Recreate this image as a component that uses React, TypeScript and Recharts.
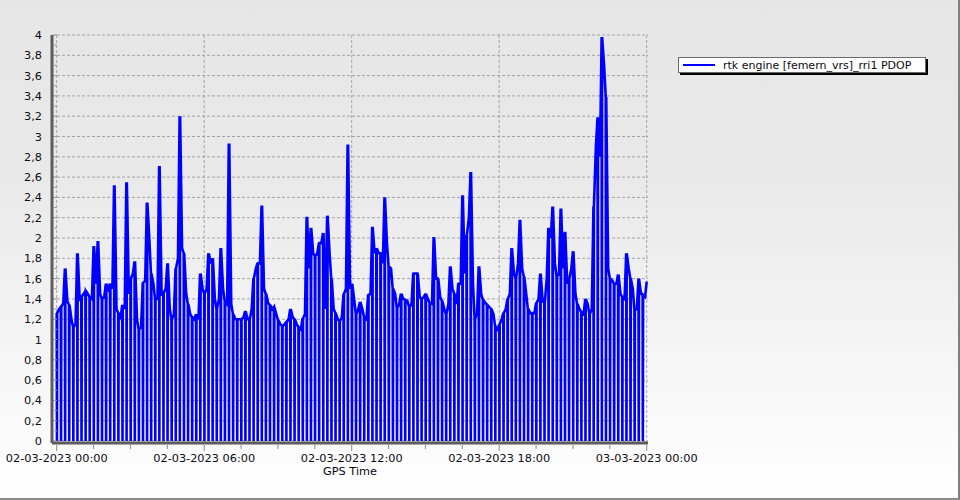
import { CartesianGrid, Legend, Line, LineChart, XAxis, YAxis } from "recharts";

// PDOP per 10-minute epoch, 02-03-2023 00:00 .. 03-03-2023 00:00
const pdop: number[] = [
  1.26, 1.32, 1.7, 1.34, 1.12, 1.85, 1.42, 1.48, 1.42, 1.92,
  1.97, 1.4, 1.55, 1.55, 2.52, 1.26, 1.34, 2.55, 1.6, 1.77,
  1.1, 1.56, 2.35, 1.65, 1.4, 2.71, 1.46, 1.75, 1.2, 1.7,
  3.2, 1.85, 1.35, 1.22, 1.25, 1.65, 1.45, 1.85, 1.8, 1.3,
  1.9, 1.38, 2.93, 1.25, 1.2, 1.2, 1.28, 1.2, 1.6, 1.75,
  2.32, 1.45, 1.34, 1.32, 1.19, 1.13, 1.17, 1.3, 1.2, 1.12,
  1.21, 2.21, 2.1, 1.82, 1.95, 2.05, 2.22, 1.6, 1.26, 1.18,
  1.45, 2.92, 1.55, 1.25, 1.37, 1.22, 1.44, 2.11, 1.9, 1.85,
  2.4, 1.72, 1.5, 1.31, 1.45, 1.39, 1.32, 1.65, 1.65, 1.4,
  1.45, 1.36, 2.01, 1.6, 1.38, 1.25, 1.72, 1.45, 1.55, 2.42,
  2.03, 2.65, 1.2, 1.72, 1.39, 1.34, 1.3, 1.13, 1.15, 1.26,
  1.4, 1.9, 1.6, 2.18, 1.62, 1.3, 1.26, 1.36, 1.65, 1.36,
  2.1, 2.31, 1.62, 2.29, 2.06, 1.6, 1.87, 1.35, 1.27, 1.4,
  1.25, 2.31, 3.19, 3.98, 3.39, 1.6, 1.55, 1.64, 1.42, 1.85,
  1.6, 1.29, 1.6, 1.44, 1.57,
];

// PDOP level between two epochs (6 minutes after each epoch)
const pdopMid: number[] = [
  1.3, 1.36, 1.38, 1.2, 1.15, 1.4, 1.45, 1.45, 1.4, 1.55,
  1.45, 1.42, 1.5, 1.5, 1.3, 1.22, 1.3, 1.45, 1.65, 1.2,
  1.12, 1.58, 2.0, 1.55, 1.4, 1.45, 1.5, 1.3, 1.25, 1.8,
  1.9, 1.45, 1.25, 1.2, 1.2, 1.5, 1.5, 1.75, 1.4, 1.4,
  1.5, 1.35, 1.35, 1.2, 1.2, 1.22, 1.2, 1.3, 1.7, 1.75,
  1.5, 1.36, 1.3, 1.25, 1.15, 1.15, 1.2, 1.22, 1.15, 1.1,
  1.25, 1.7, 1.85, 1.85, 1.95, 1.3, 1.85, 1.3, 1.2, 1.22,
  1.5, 1.5, 1.4, 1.3, 1.3, 1.2, 1.45, 1.85, 1.85, 1.75,
  1.95, 1.7, 1.45, 1.35, 1.4, 1.38, 1.35, 1.65, 1.42, 1.42,
  1.4, 1.35, 1.6, 1.42, 1.3, 1.35, 1.5, 1.35, 1.55, 1.65,
  2.2, 1.55, 1.26, 1.45, 1.36, 1.32, 1.25, 1.1, 1.2, 1.3,
  1.45, 1.65, 1.75, 1.7, 1.45, 1.26, 1.26, 1.4, 1.38, 1.6,
  2.0, 1.75, 1.65, 1.7, 1.55, 1.7, 1.45, 1.3, 1.25, 1.35,
  1.3, 2.9, 2.8, 3.7, 1.7, 1.58, 1.55, 1.45, 1.4, 1.7,
  1.5, 1.3, 1.45, 1.42,
];
const EPOCH_MIN = 10;
const MID_OFFSET_MIN = 6;
// the receiver logs a 0 reading right after every epoch
const DROPOUT_VALUE = 0;

const xTicks = [0, 90, 180, 270, 360, 450, 540, 630, 720, 810, 900, 990, 1080, 1170, 1260, 1350, 1440];
const xLabelTimes = [0, 360, 720, 1080, 1440];
const xLabels = ["02-03-2023 00:00", "02-03-2023 06:00", "02-03-2023 12:00", "02-03-2023 18:00", "03-03-2023 00:00"];

const yTicks = [
  0, 0.1, 0.2, 0.3, 0.4, 0.5, 0.6, 0.7, 0.8, 0.9, 1, 1.1, 1.2, 1.3, 1.4, 1.5, 1.6, 1.7, 1.8, 1.9, 2,
  2.1, 2.2, 2.3, 2.4, 2.5, 2.6, 2.7, 2.8, 2.9, 3, 3.1, 3.2, 3.3, 3.4, 3.5, 3.6, 3.7, 3.8, 3.9, 4,
];
const yGrid = [0, 0.2, 0.4, 0.6, 0.8, 1, 1.2, 1.4, 1.6, 1.8, 2, 2.2, 2.4, 2.6, 2.8, 3, 3.2, 3.4, 3.6, 3.8, 4];

const SERIES_NAME = "rtk engine [femern_vrs]_rri1 PDOP";
const FONT = "'DejaVu Sans', Verdana, sans-serif";

const rows: Array<{ t: number; pdop: number }> = [];
pdop.forEach((v, i) => {
  const t = i * EPOCH_MIN;
  rows.push({ t, pdop: v });
  if (i < pdopMid.length) {
    rows.push({ t: t + 0.6, pdop: DROPOUT_VALUE });
    rows.push({ t: t + 1.2, pdop: v });
    rows.push({ t: t + MID_OFFSET_MIN, pdop: pdopMid[i] });
  }
});

function XTick({ x, y, payload }: any) {
  const idx = xLabelTimes.indexOf(payload.value);
  const major = idx >= 0;
  return (
    <g>
      <line x1={x} x2={x} y1={y + 2} y2={y + (major ? 8 : 6)} stroke="#8c8c8c" />
      {major && (
        <text x={x} y={y + 19} textAnchor="middle" fontFamily={FONT} fontSize={11.3} fill="#0a0a14">
          {xLabels[idx]}
        </text>
      )}
    </g>
  );
}

function YTick({ x, y, payload }: any) {
  const v: number = payload.value;
  const major = Math.round(v * 10) % 2 === 0;
  return (
    <g>
      <line x1={x + 2} x2={x + 5} y1={y} y2={y} stroke="#9a9a9a" />
      {major && (
        <text x={x - 10} y={y + 4} textAnchor="end" fontFamily={FONT} fontSize={11.3} fill="#0a0a14">
          {String(v).replace(".", ",")}
        </text>
      )}
    </g>
  );
}

function LegendBox() {
  return (
    <div
      style={{
        boxSizing: "border-box",
        width: 248,
        height: 16,
        display: "flex",
        alignItems: "center",
        background: "#fff",
        border: "1px solid #6b6b6b",
        boxShadow: "2px 2px 0 #000",
        padding: "0 4px",
        fontFamily: FONT,
        fontSize: 11,
        color: "#0a0a14",
        whiteSpace: "nowrap",
      }}
    >
      <svg width={32} height={4}>
        <line x1={0} x2={32} y1={2} y2={2} stroke="#0000ff" strokeWidth={2} />
      </svg>
      <span style={{ marginLeft: 8 }}>{SERIES_NAME}</span>
    </div>
  );
}

export default function App() {
  return (
    <div
      style={{
        position: "fixed",
        left: 0,
        top: 0,
        width: 960,
        height: 500,
        background: "linear-gradient(#e6e6e6, #e9e9e9 35%, #ffffff)",
      }}
    >
      <LineChart width={960} height={500} data={rows} margin={{ top: 35, right: 312, bottom: 0, left: 0 }}>
        <CartesianGrid
          horizontalValues={yGrid}
          verticalValues={xLabelTimes}
          stroke="#a3a3a3"
          strokeDasharray="3 2"
        />
        <XAxis
          dataKey="t"
          type="number"
          domain={[0, 1440]}
          ticks={xTicks}
          interval={0}
          height={57}
          padding={{ left: 4.7, right: 1.3 }}
          axisLine={{ stroke: "#5c5c5c", strokeWidth: 3 }}
          tickLine={false}
          tickSize={0}
          tickMargin={0}
          tick={<XTick />}
          label={{
            value: "GPS Time",
            position: "insideTop",
            offset: 24,
            fontFamily: FONT,
            fontSize: 11.3,
            fill: "#0a0a14",
          }}
        />
        <YAxis
          type="number"
          domain={[0, 4]}
          ticks={yTicks}
          interval={0}
          width={52}
          padding={{ bottom: 2 }}
          axisLine={{ stroke: "#5c5c5c", strokeWidth: 3 }}
          tickLine={false}
          tickSize={0}
          tickMargin={0}
          tick={<YTick />}
        />
        <Legend
          layout="vertical"
          align="center"
          verticalAlign="middle"
          content={() => <LegendBox />}
          wrapperStyle={{ left: 678, top: 57, width: 260 }}
        />
        <Line
          type="linear"
          dataKey="pdop"
          name={SERIES_NAME}
          stroke="#0000ff"
          strokeWidth={2.6}
          dot={false}
          isAnimationActive={false}
        />
      </LineChart>
      <div
        style={{
          position: "absolute",
          inset: 0,
          boxSizing: "border-box",
          borderRight: "2px solid #7f7f7f",
          borderBottom: "2px solid #8c8c8c",
          pointerEvents: "none",
        }}
      />
    </div>
  );
}
